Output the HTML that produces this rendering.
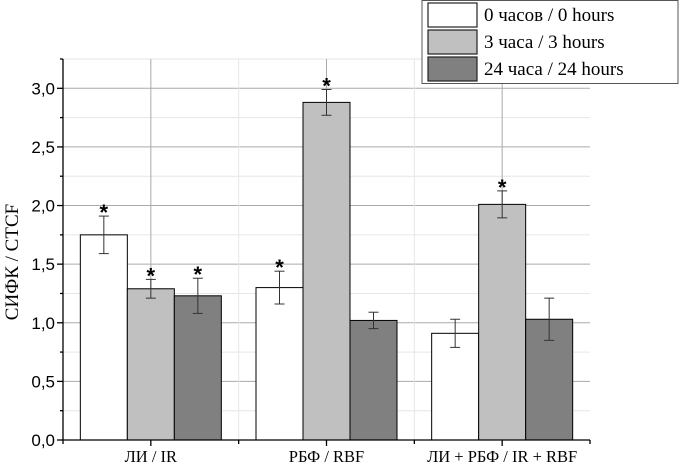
<!DOCTYPE html>
<html><head><meta charset="utf-8"><style>
body{margin:0;background:#fff}
svg{display:block}
</style></head><body>
<svg id="chart" width="679" height="465" xmlns="http://www.w3.org/2000/svg"></svg>
<script>
const categories=["ЛИ / IR","РБФ / RBF","ЛИ + РБФ / IR + RBF"];
const seriesNames=["0 часов / 0 hours","3 часа / 3 hours","24 часа / 24 hours"];
const s0=[1.75,1.30,0.91];
const s1=[1.29,2.88,2.01];
const s2=[1.23,1.02,1.03];
const e0=[0.16,0.14,0.12];
const e1=[0.08,0.11,0.115];
const e2=[0.15,0.07,0.18];
const sig0=[true,true,false];
const sig1=[true,true,true];
const sig2=[true,false,false];
const yTicks=["0,0","0,5","1,0","1,5","2,0","2,5","3,0"];
const yTickVals=[0,0.5,1,1.5,2,2.5,3];

const NS="http://www.w3.org/2000/svg";
const svg=document.getElementById('chart');
const X0=63,X1=590,Y0=440,YMAX=3.25,YTOP=59;
const groupW=(X1-X0)/categories.length;
function y(v){return Y0-(v/YMAX)*(Y0-YTOP);}
function gx(i){return X0+groupW*i;}
function mk(tag,attrs,parent){const e=document.createElementNS(NS,tag);for(const k in attrs)e.setAttribute(k,attrs[k]);(parent||svg).appendChild(e);return e;}

const grid=mk('g',{});


for(let v=0.25;v<=YMAX+0.001;v+=0.25){
  const major=Math.abs(v*2-Math.round(v*2))<0.001;
  mk('line',{x1:X0,x2:X1,y1:y(v),y2:y(v),stroke:major?'#aaa':'#e6e6e6','stroke-width':1},grid);
}
for(let i=0;i<categories.length;i++){
  mk('line',{x1:gx(i)+groupW/2,x2:gx(i)+groupW/2,y1:YTOP,y2:Y0,stroke:'#aaa','stroke-width':1},grid);
  if(i>0)mk('line',{x1:gx(i),x2:gx(i),y1:YTOP,y2:Y0,stroke:'#e6e6e6','stroke-width':1},grid);
}

const series=[s0,s1,s2],errs=[e0,e1,e2],sigs=[sig0,sig1,sig2];
const fills=['#ffffff','#c0c0c0','#808080'];
const barW=47,pad=(groupW-3*barW)/2;
for(let s=0;s<3;s++){
  for(let i=0;i<categories.length;i++){
    const v=series[s][i],bx=gx(i)+pad+s*barW;
    const r=mk('rect',{x:bx,y:y(v),width:barW,height:Y0-y(v),fill:fills[s],stroke:'#000','stroke-width':1});
    
    
    const cx=bx+barW/2,hi=v+errs[s][i],lo=v-errs[s][i];
    const eb=mk('g',{stroke:'#333','stroke-width':1});
    
    
    mk('line',{x1:cx,x2:cx,y1:y(hi),y2:y(lo)},eb);
    mk('line',{x1:cx-5,x2:cx+5,y1:y(hi),y2:y(hi)},eb);
    mk('line',{x1:cx-5,x2:cx+5,y1:y(lo),y2:y(lo)},eb);
    if(sigs[s][i]){
      const t=mk('text',{x:cx,y:y(hi)+4,'text-anchor':'middle','font-family':'Liberation Sans, sans-serif','font-size':22,'font-weight':'bold'});
      t.textContent='*';
      
      
    }
  }
}

const ax=mk('g',{stroke:'#000','stroke-width':1.3});


mk('line',{x1:X0,x2:X0,y1:YTOP,y2:Y0},ax);
mk('line',{x1:X0,x2:X1,y1:Y0,y2:Y0},ax);
for(let v=0;v<=YMAX+0.001;v+=0.25){
  const major=Math.abs(v*2-Math.round(v*2))<0.001;
  mk('line',{x1:X0-(major?6:3),x2:X0,y1:y(v),y2:y(v)},ax);
}
for(let i=0;i<=categories.length;i++){
  mk('line',{x1:gx(i),x2:gx(i),y1:Y0,y2:Y0+4},ax);
  if(i<categories.length)mk('line',{x1:gx(i)+groupW/2,x2:gx(i)+groupW/2,y1:Y0,y2:Y0+6},ax);
}
for(let k=0;k<yTicks.length;k++){
  const t=mk('text',{x:X0-8,y:y(yTickVals[k])+6,'text-anchor':'end','font-family':'Liberation Sans, sans-serif','font-size':17});
  t.textContent=yTicks[k];
  
  
}
for(let i=0;i<categories.length;i++){
  const t=mk('text',{x:gx(i)+groupW/2,y:462,'text-anchor':'middle','font-family':'Liberation Serif, serif','font-size':16.5});
  t.textContent=categories[i];
  
  
}
const yl=mk('text',{x:0,y:0,transform:'translate(18,262) rotate(-90)','text-anchor':'middle','font-family':'Liberation Serif, serif','font-size':19});
yl.textContent='СИФК / CTCF';



const lg=mk('g',{});


mk('rect',{x:422,y:0.5,width:256,height:83,fill:'#fff',stroke:'#555','stroke-width':1},lg);
for(let s=0;s<3;s++){
  const ry=3+s*27;
  const sw=mk('rect',{x:428,y:ry,width:49,height:24,fill:fills[s],stroke:'#222','stroke-width':1.2},lg);
  
  
  const t=mk('text',{x:484,y:ry+18,'font-family':'Liberation Serif, serif','font-size':19},lg);
  t.textContent=seriesNames[s];
  
  
}
</script>
</body></html>
